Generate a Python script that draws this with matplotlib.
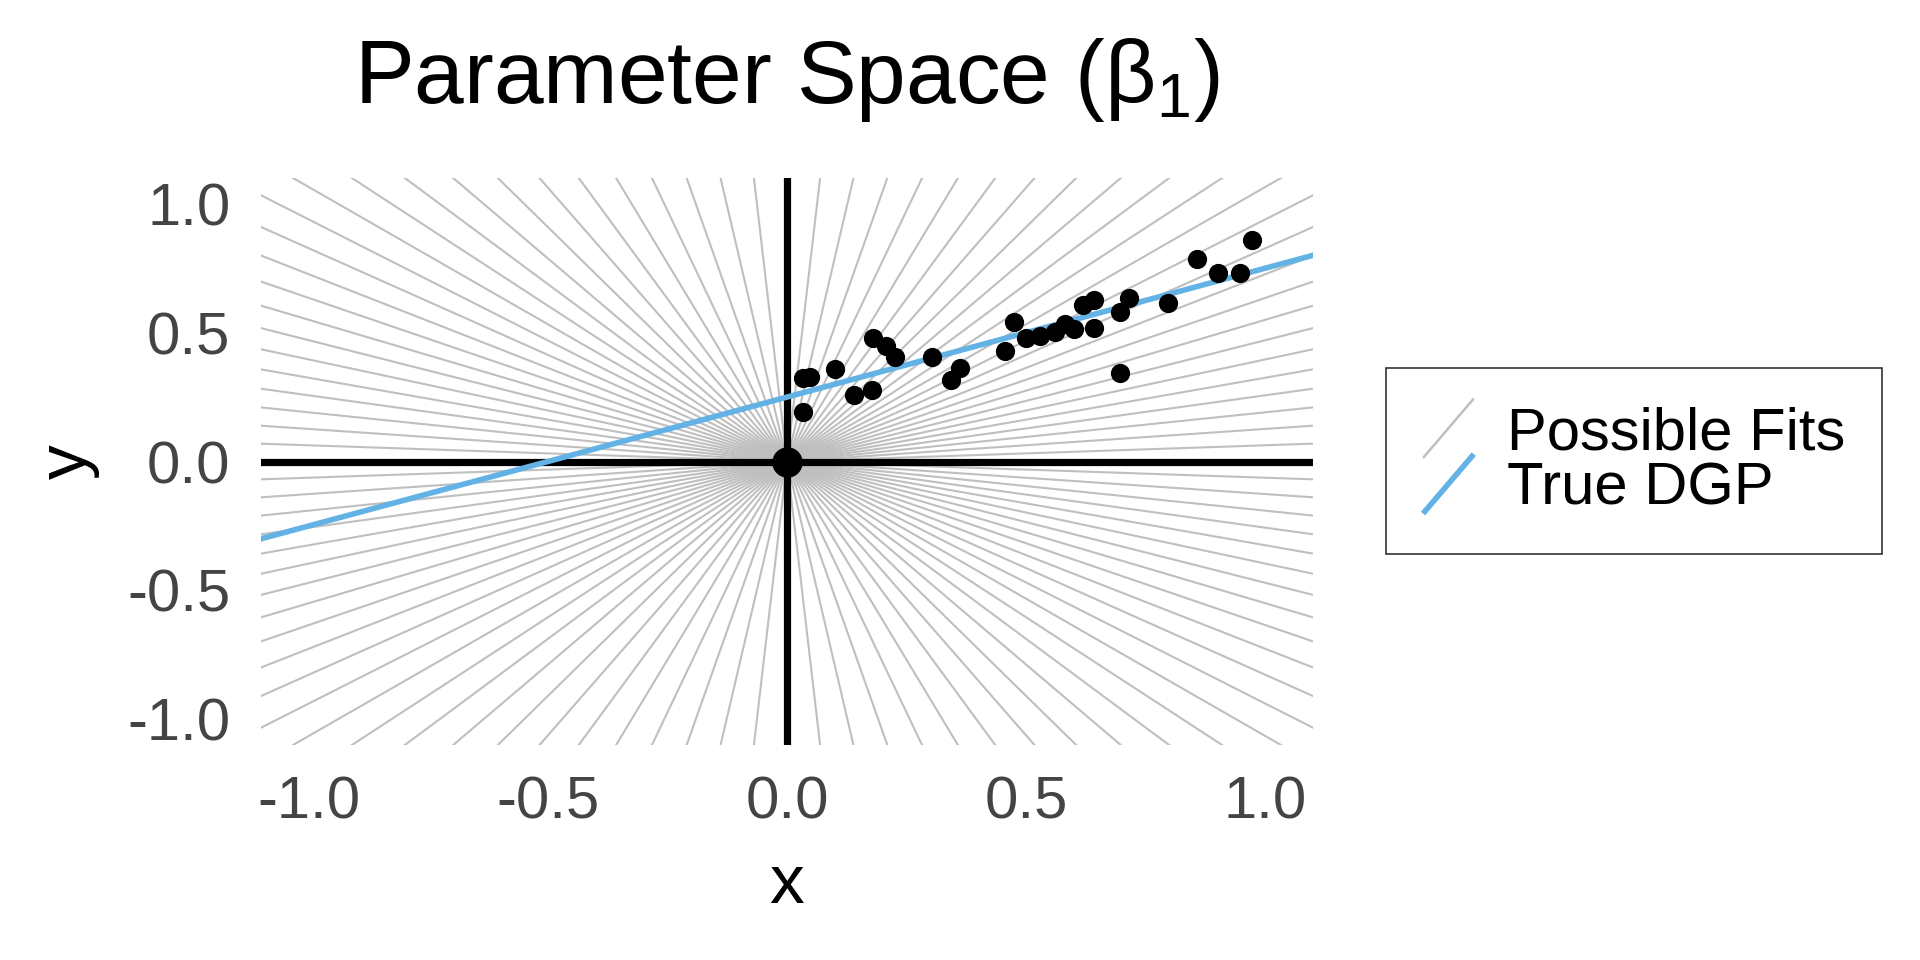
import numpy as np
import matplotlib
matplotlib.use("Agg")
import matplotlib.pyplot as plt
from matplotlib.legend_handler import HandlerBase
from matplotlib.lines import Line2D

plt.rcParams['font.family'] = ['Liberation Sans', 'DejaVu Sans']
plt.rcParams['mathtext.fontset'] = 'custom'
plt.rcParams['mathtext.rm'] = 'Liberation Sans'
plt.rcParams['mathtext.it'] = 'Liberation Sans'
plt.rcParams['mathtext.bf'] = 'Liberation Sans'

# ---- data ----
x_points = [0.033, 0.048, 0.034, 0.100, 0.140, 0.178, 0.180, 0.207, 0.226, 0.303,
            0.342, 0.361, 0.456, 0.475, 0.499, 0.530, 0.560, 0.581, 0.600, 0.618,
            0.641, 0.643, 0.696, 0.696, 0.716, 0.796, 0.857, 0.901, 0.947, 0.972]
y_points = [0.325, 0.327, 0.191, 0.359, 0.257, 0.277, 0.480, 0.448, 0.404, 0.406,
            0.317, 0.362, 0.428, 0.543, 0.478, 0.487, 0.502, 0.532, 0.516, 0.606,
            0.625, 0.518, 0.580, 0.344, 0.635, 0.616, 0.784, 0.733, 0.730, 0.860]

# angles (degrees) of the candidate lines through the origin
fit_angles = [-90.0, -86.4, -82.8, -79.2, -75.6, -72.0, -68.4, -64.8, -61.2, -57.6,
              -54.0, -50.4, -46.8, -43.2, -39.6, -36.0, -32.4, -28.8, -25.2, -21.6,
              -18.0, -14.4, -10.8, -7.2, -3.6, 0.0, 3.6, 7.2, 10.8, 14.4,
              18.0, 21.6, 25.2, 28.8, 32.4, 36.0, 39.6, 43.2, 46.8, 50.4,
              54.0, 57.6, 61.2, 64.8, 68.4, 72.0, 75.6, 79.2, 82.8, 86.4, 90.0]

true_intercept = 0.25
true_slope = 0.5

x_ticks = [-1.0, -0.5, 0.0, 0.5, 1.0]
y_ticks = [-1.0, -0.5, 0.0, 0.5, 1.0]
tick_labels = ['-1.0', '-0.5', '0.0', '0.5', '1.0']

XLIM = (-1.1, 1.1)
YLIM = (-1.1, 1.1)

GRAY = '#bfbfbf'
BLUE = '#63b2e6'

fig = plt.figure(figsize=(9.6, 4.8), dpi=200)
ax = fig.add_axes([261/1920, 1 - 745/960, (1313-261)/1920, (745-178)/960])

# possible fits
for a in fit_angles:
    ax.axline((0, 0), (np.cos(np.radians(a)), np.sin(np.radians(a))),
              color=GRAY, lw=0.75, zorder=1)

# axes lines
ax.axhline(0, color='black', lw=2.6, zorder=2)
ax.axvline(0, color='black', lw=2.6, zorder=2)

# true DGP
ax.axline((0, true_intercept), slope=true_slope, color=BLUE, lw=2.0, zorder=3)

# data points
ax.scatter(x_points, y_points, s=48, color='black', zorder=4, linewidths=0)
ax.scatter([0], [0], s=120, color='black', zorder=5, linewidths=0)

ax.set_xlim(*XLIM)
ax.set_ylim(*YLIM)
ax.set_xticks(x_ticks)
ax.set_xticklabels(tick_labels)
ax.set_yticks(y_ticks)
ax.set_yticklabels(tick_labels)
ax.tick_params(length=0, labelsize=21.5, labelcolor='#444444')
ax.tick_params(axis='x', pad=11)
ax.tick_params(axis='y', pad=11)
for s in ax.spines.values():
    s.set_visible(False)

ax.set_xlabel('x', fontsize=25, labelpad=8)
ax.set_ylabel('y', fontsize=25, labelpad=10)
ax.set_title('Parameter Space (β$_1$)', fontsize=32.2, pad=27)


class HandlerDiag(HandlerBase):
    def create_artists(self, legend, orig_handle, xdescent, ydescent,
                       width, height, fontsize, trans):
        line = Line2D([-xdescent, -xdescent + width],
                      [-ydescent - 0.15 * height, -ydescent + height * 1.15],
                      color=orig_handle.get_color(), lw=orig_handle.get_linewidth(),
                      solid_capstyle='butt')
        line.set_transform(trans)
        return [line]


h1 = Line2D([], [], color=GRAY, lw=0.9)
h2 = Line2D([], [], color=BLUE, lw=2.0)
leg = fig.legend([h1, h2], ['Possible Fits', 'True DGP'],
                 handler_map={Line2D: HandlerDiag()},
                 loc='center left', bbox_to_anchor=(1386/1920, 1 - 461/960),
                 fontsize=21.5, frameon=True, fancybox=False,
                 borderpad=0.62, handlelength=0.85, handleheight=0.8,
                 handletextpad=0.55, labelspacing=0.0, borderaxespad=0)
leg.get_frame().set_edgecolor('black')
leg.get_frame().set_linewidth(0.6)

fig.savefig('out.png', dpi=200)
